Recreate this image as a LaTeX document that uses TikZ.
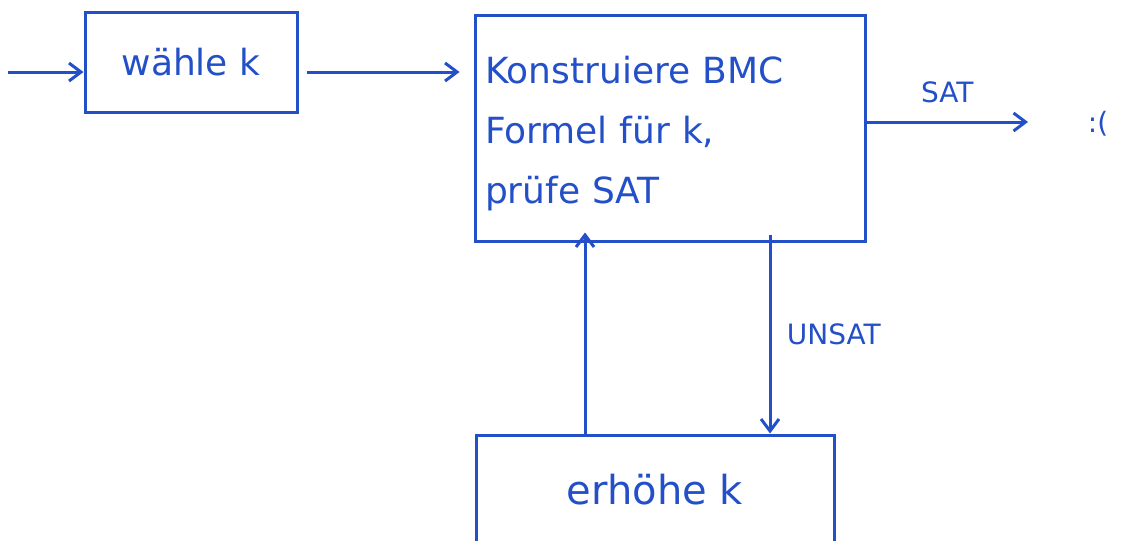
\documentclass[tikz,border=0pt]{standalone}
\usepackage{fontspec}
\setmainfont{DejaVu Sans}
\usetikzlibrary{arrows.meta}
\definecolor{pen}{RGB}{35,80,200}
\begin{document}
\begin{tikzpicture}[x=1pt,y=-1pt,
  pen/.style={draw=pen,line width=3pt},
  boxn/.style={pen,rectangle,inner sep=0pt,text=pen,font=\fontsize{36}{60}\selectfont,align=left},
  arr/.style={pen,-{Straight Barb[length=12pt,width=18pt]}},
  lbl/.style={text=pen,font=\fontsize{28}{34}\selectfont}]
\useasboundingbox (0,0) rectangle (1141,541);
\node[boxn,minimum width=212pt,minimum height=100pt] (w) at (191,62) {\raisebox{-8pt}{wähle k}};
\node[boxn,minimum width=390pt,minimum height=226pt,text width=370pt] (c) at (670,128) {\\[-22pt]Konstruiere BMC\\Formel für k,\\prüfe SAT};
\node[boxn,minimum width=358pt,minimum height=110pt,font=\fontsize{40}{48}\selectfont] (e) at (655,490) {erhöhe k};
\coordinate (in) at (8,72);
\coordinate (out) at (1028,122);
\node[lbl] (sad) at (1098,124) {:(};
\draw[arr] (in) -- (w.west |- in);
\draw[arr] ([xshift=8pt]w.east |- in) -- ([xshift=-14pt]c.west |- in);
\draw[arr] (c.east |- out) -- (out) node[lbl,midway,above=14pt] (sat) {SAT};
\draw[arr] (e.north -| 585,0) -- ([yshift=10pt]c.south -| 585,0);
\draw[arr] ([yshift=8pt]c.south -| 770,0) -- (e.north -| 770,0) node[lbl,midway,right=12pt] (uns) {UNSAT};
\end{tikzpicture}
\end{document}
